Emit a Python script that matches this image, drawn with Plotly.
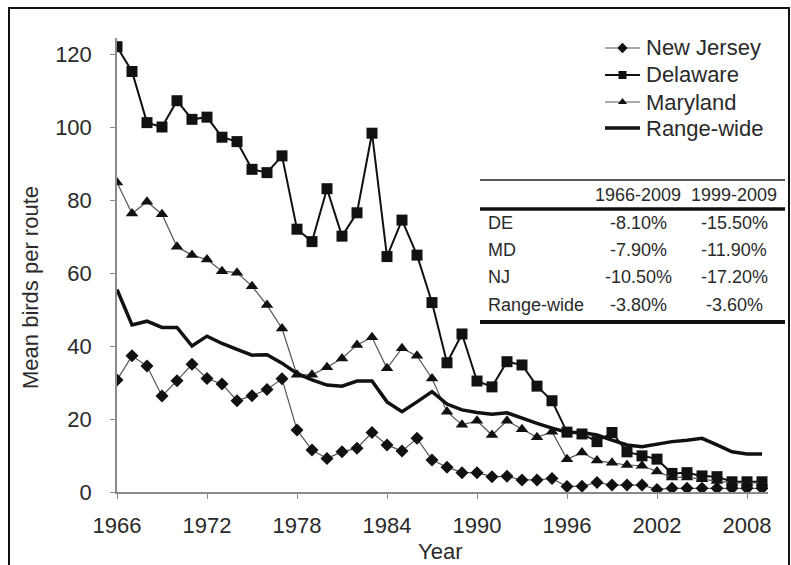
import plotly.graph_objects as go

# Breeding Bird Survey index, mean birds per route
years = list(range(1966, 2010))

new_jersey = [30.7, 37.3, 34.5, 26.3, 30.5, 35.0, 31.1, 29.6, 25.0, 26.4,
              28.1, 31.0, 17.0, 11.5, 9.2, 11.0, 12.0, 16.3, 12.9, 11.2,
              14.7, 8.8, 6.8, 5.3, 5.3, 4.2, 4.3, 3.3, 3.3, 3.7,
              1.5, 1.6, 2.6, 1.9, 1.9, 1.9, 0.7, 1.0, 1.0, 1.0,
              1.0, 1.0, 1.0, 1.0]

delaware = [122.0, 115.2, 101.2, 100.0, 107.2, 102.1, 102.7, 97.2, 96.0, 88.4,
            87.5, 92.1, 72.0, 68.6, 83.1, 70.1, 76.5, 98.3, 64.5, 74.5,
            64.9, 51.9, 35.4, 43.3, 30.4, 28.8, 35.7, 34.8, 29.0, 25.0,
            16.4, 15.9, 13.8, 16.3, 11.0, 9.9, 9.0, 5.1, 5.3, 4.4,
            4.2, 2.8, 2.8, 2.8]

maryland = [84.8, 76.3, 79.5, 76.1, 67.2, 64.9, 63.7, 60.5, 60.1, 56.4,
            51.2, 44.8, 32.1, 32.1, 34.2, 36.6, 40.3, 42.4, 33.9, 39.4,
            37.3, 31.1, 22.0, 18.4, 19.5, 15.6, 19.5, 17.2, 15.0, 16.5,
            9.0, 10.8, 8.6, 8.0, 7.4, 7.2, 5.6, 4.0, 4.0, 3.5,
            3.0, 2.5, 2.5, 2.5]

range_wide = [55.5, 45.8, 46.8, 45.1, 45.1, 40.0, 42.7, 40.7, 39.1, 37.5,
              37.6, 35.3, 32.5, 30.7, 29.3, 29.0, 30.4, 30.4, 24.7, 22.0,
              24.7, 27.5, 24.1, 22.5, 21.8, 21.3, 21.7, 20.2, 18.8, 17.5,
              16.4, 16.3, 15.6, 14.2, 12.9, 12.4, 13.2, 13.8, 14.2, 14.7,
              12.9, 11.0, 10.4, 10.4]

# Annual trend summary
table_rows = ["DE", "MD", "NJ", "Range-wide"]
trend_1966_2009 = [-8.10, -7.90, -10.50, -3.80]
trend_1999_2009 = [-15.50, -11.90, -17.20, -3.60]
table_headers = ["1966-2009", "1999-2009"]

x_ticks = list(range(1966, 2009, 6))
y_ticks = list(range(0, 121, 20))

FONT = "Liberation Sans, Arial, sans-serif"
TEXT = "#2a2a2a"

# plot-area geometry (pixels)
W, H = 791, 565
ML, MR, MT, MB = 117, 23, 38, 73
PW, PH = W - ML - MR, H - MT - MB


def px(x):
    return (x - ML) / PW


def py(y):
    return (H - MB - y) / PH


series = [
    dict(name="New Jersey", y=new_jersey,
         line=dict(color="#555555", width=1.2),
         marker=dict(symbol="diamond", size=10, color="#111111"),
         key_marker=dict(symbol="diamond", size=8, color="#111111")),
    dict(name="Delaware", y=delaware,
         line=dict(color="#111111", width=2),
         marker=dict(symbol="square", size=11, color="#111111"),
         key_marker=dict(symbol="square", size=8, color="#111111")),
    dict(name="Maryland", y=maryland,
         line=dict(color="#555555", width=1.2),
         marker=dict(symbol="triangle-up", size=11, color="#111111"),
         key_marker=dict(symbol="triangle-up", size=8, color="#111111")),
    dict(name="Range-wide", y=range_wide,
         line=dict(color="#111111", width=3.5),
         marker=None, key_marker=None),
]

fig = go.Figure()

for s in series:
    fig.add_trace(go.Scatter(
        x=years, y=s["y"], name=s["name"],
        mode="lines+markers" if s["marker"] else "lines",
        line=s["line"], marker=s["marker"], showlegend=False,
    ))

# legend keys drawn on a pixel-space overlay axis
key_x0, key_x1, key_text_x = 605, 640, 644
key_rows = [48, 75, 102, 128]
annotations = []
for s, ky in zip(series, key_rows):
    fig.add_trace(go.Scatter(
        x=[key_x0, key_x1], y=[ky, ky], xaxis="x2", yaxis="y2",
        mode="lines", line=dict(color=s["line"]["color"],
                                width=s["line"]["width"]),
        hoverinfo="skip", showlegend=False,
    ))
    if s["key_marker"]:
        fig.add_trace(go.Scatter(
            x=[(key_x0 + key_x1) / 2], y=[ky], xaxis="x2", yaxis="y2",
            mode="markers", marker=s["key_marker"],
            hoverinfo="skip", showlegend=False,
        ))
    annotations.append(dict(xref="paper", yref="paper", x=px(key_text_x),
                            y=py(ky), text=s["name"], showarrow=False,
                            xanchor="left", yanchor="middle",
                            font=dict(family=FONT, size=22, color=TEXT)))

shapes = []

# outer frame
shapes.append(dict(type="rect", xref="paper", yref="paper",
                   x0=px(9), x1=px(789), y0=py(580), y1=py(8),
                   line=dict(color="#111111", width=2)))

# trend table rules
tx0, tx1 = px(480), px(785)
shapes.append(dict(type="line", xref="paper", yref="paper",
                   x0=tx0, x1=tx1, y0=py(180), y1=py(180),
                   line=dict(color="#222222", width=1.5)))
shapes.append(dict(type="line", xref="paper", yref="paper",
                   x0=tx0, x1=tx1, y0=py(209), y1=py(209),
                   line=dict(color="#111111", width=3.5)))
shapes.append(dict(type="line", xref="paper", yref="paper",
                   x0=tx0, x1=tx1, y0=py(322), y1=py(322),
                   line=dict(color="#111111", width=4)))

tfont = dict(family=FONT, size=18, color=TEXT)
col_x = [px(638), px(734)]
for hdr, cx in zip(table_headers, col_x):
    annotations.append(dict(xref="paper", yref="paper", x=cx, y=py(195),
                            text=hdr, showarrow=False, font=tfont,
                            xanchor="center", yanchor="middle"))
row_y = [223, 250, 277, 305]
for name, a, b, ry in zip(table_rows, trend_1966_2009, trend_1999_2009, row_y):
    annotations.append(dict(xref="paper", yref="paper", x=px(486), y=py(ry),
                            text=name, showarrow=False, font=tfont,
                            xanchor="left", yanchor="middle"))
    for val, cx in zip((a, b), col_x):
        annotations.append(dict(xref="paper", yref="paper", x=cx, y=py(ry),
                                text=f"{val:.2f}%", showarrow=False, font=tfont,
                                xanchor="center", yanchor="middle"))

# axis titles
annotations.append(dict(xref="paper", yref="paper", x=px(30), y=py(288),
                        text="Mean birds per route", textangle=-90,
                        showarrow=False, xanchor="center", yanchor="middle",
                        font=dict(family=FONT, size=22, color=TEXT)))
annotations.append(dict(xref="paper", yref="paper", x=px(440), y=py(551),
                        text="Year", showarrow=False,
                        xanchor="center", yanchor="middle",
                        font=dict(family=FONT, size=22, color=TEXT)))

fig.update_layout(
    width=W, height=H,
    margin=dict(l=ML, r=MR, t=MT, b=MB, autoexpand=False),
    paper_bgcolor="white", plot_bgcolor="white",
    font=dict(family=FONT, size=22, color=TEXT),
    showlegend=False,
    shapes=shapes,
    annotations=annotations,
    xaxis2=dict(overlaying="x", range=[ML, W - MR], visible=False,
                fixedrange=True),
    yaxis2=dict(overlaying="y", range=[H - MB, MT], visible=False,
                fixedrange=True),
)

fig.update_xaxes(
    selector=dict(anchor="y"),
    range=[1966, 2009.4], tickmode="array", tickvals=x_ticks,
    showgrid=False, zeroline=False,
    showline=True, linecolor="#8a8a8a", linewidth=1.5,
    ticks="outside", ticklen=5, tickcolor="#8a8a8a",
    ticklabelstandoff=8,
    tickfont=dict(family=FONT, size=22, color=TEXT),
)
fig.update_layout(yaxis=dict(
    range=[0, PH / 3.65], tickmode="array", tickvals=y_ticks,
    showgrid=False, zeroline=False,
    showline=True, linecolor="#8a8a8a", linewidth=1.5,
    ticks="outside", ticklen=5, tickcolor="#8a8a8a",
    ticklabelstandoff=14,
    tickfont=dict(family=FONT, size=22, color=TEXT),
))
fig.update_layout(xaxis=dict(
    range=[1966, 2009.4], tickmode="array", tickvals=x_ticks,
    showgrid=False, zeroline=False,
    showline=True, linecolor="#8a8a8a", linewidth=1.5,
    ticks="outside", ticklen=5, tickcolor="#8a8a8a",
    ticklabelstandoff=8,
    tickfont=dict(family=FONT, size=22, color=TEXT),
))

fig.write_html("out.html")
